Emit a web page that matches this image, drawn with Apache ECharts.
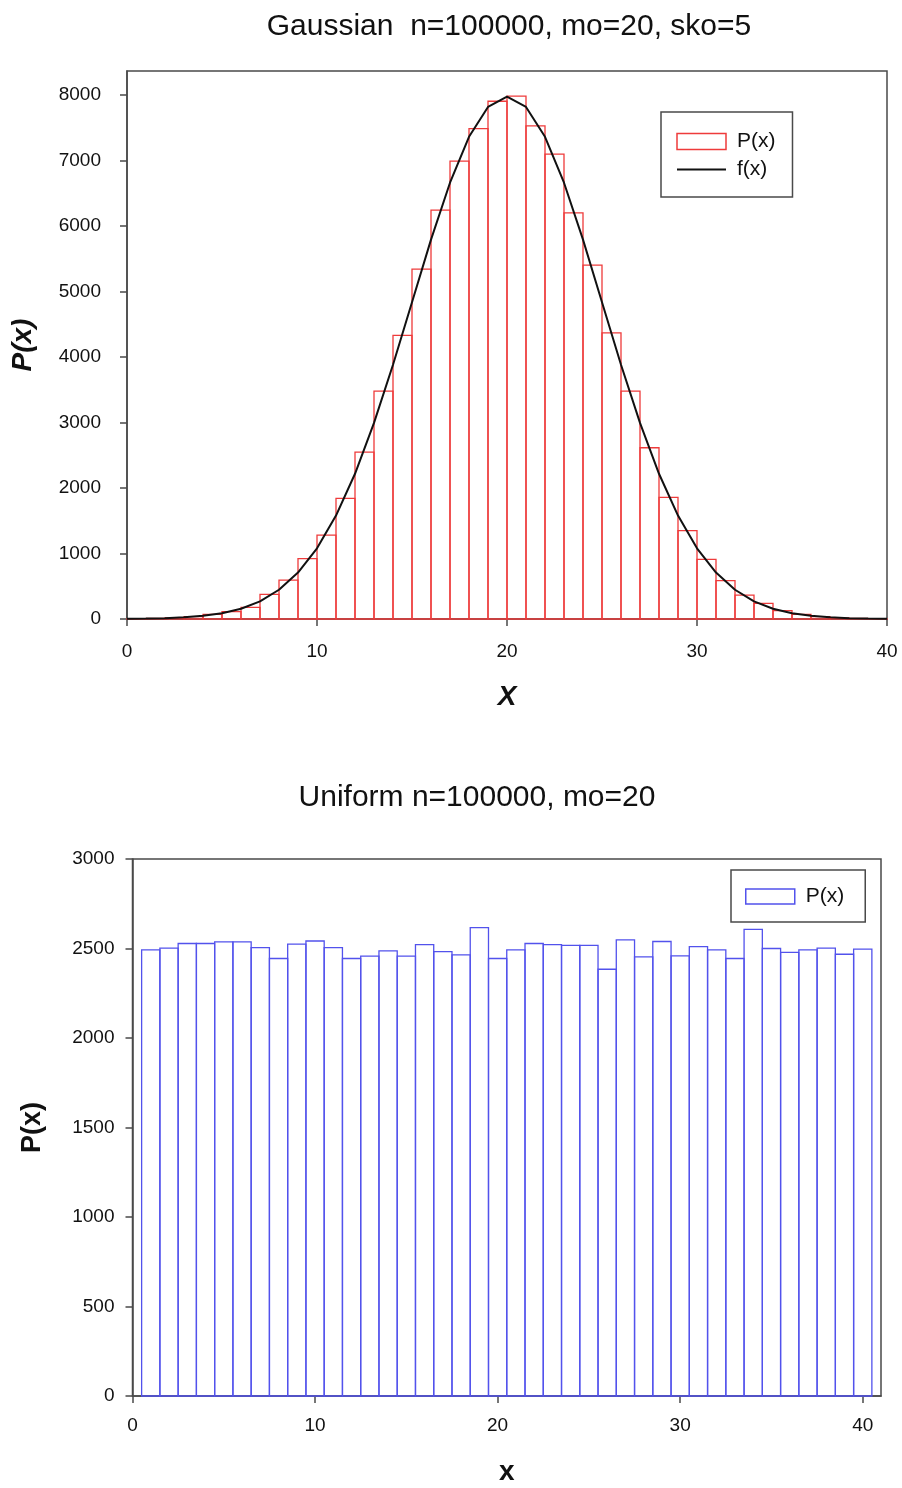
<!DOCTYPE html>
<html>
<head>
<meta charset="utf-8">
<script src="https://cdn.jsdelivr.net/npm/echarts@6/dist/echarts.min.js"></script>
<style>
html,body{margin:0;padding:0;background:#fff;}
#chart{width:902px;height:1488px;}
</style>
</head>
<body>
<div id="chart"></div>
<script>
// ---------- Data ----------
// Gaussian histogram: bins [start, start+1)
const gaussBinStart = [0,1,2,3,4,5,6,7,8,9,10,11,12,13,14,15,16,17,18,19,20,21,22,23,24,25,26,27,28,29,30,31,32,33,34,35,36,37,38,39];
const gaussCounts   = [3,8,17,37,72,112,178,377,595,921,1282,1842,2550,3480,4331,5344,6244,6992,7491,7908,7985,7532,7099,6204,5405,4370,3481,2616,1858,1349,911,585,366,239,127,70,35,16,8,3];
// f(x) curve, read at integer x
const curveX = [0,1,2,3,4,5,6,7,8,9,10,11,12,13,14,15,16,17,18,19,20,21,22,23,24,25,26,27,28,29,30,31,32,33,34,35,36,37,38,39,40];
const curveY = [3,6,12,25,48,89,157,270,447,709,1080,1579,2218,2995,3883,4839,5794,6664,7365,7821,7979,7821,7365,6664,5794,4839,3883,2995,2218,1579,1080,709,447,270,157,89,48,25,12,6,3];
// Uniform histogram: bins centred on integers
const uniCentres = [1,2,3,4,5,6,7,8,9,10,11,12,13,14,15,16,17,18,19,20,21,22,23,24,25,26,27,28,29,30,31,32,33,34,35,36,37,38,39,40];
const uniCounts  = [2492,2502,2528,2528,2537,2537,2505,2444,2525,2542,2505,2444,2457,2487,2457,2522,2483,2464,2617,2444,2492,2528,2522,2517,2517,2384,2548,2453,2539,2459,2511,2492,2444,2607,2500,2478,2492,2502,2468,2497];

const titleTop = 'Gaussian  n=100000, mo=20, sko=5';
const titleBottom = 'Uniform n=100000, mo=20';

// ---------- Build ----------
const FONT = 'Liberation Sans, Arial, sans-serif';
const RED = '#ee3b3b';
const BLUE = '#5252ec';
const FRAME = '#4a4a4a';

const gaussData = gaussBinStart.map((s, i) => [s, s + 1, gaussCounts[i]]);
const curveData = curveX.map((x, i) => [x, curveY[i]]);
const uniData = uniCentres.map((c, i) => [c - 0.5, c + 0.5, uniCounts[i]]);

function histRender(color) {
  return function (params, api) {
    const x0 = api.value(0), x1 = api.value(1), y = api.value(2);
    const p0 = api.coord([x0, y]);
    const p1 = api.coord([x1, 0]);
    return {
      type: 'rect',
      shape: { x: p0[0], y: p0[1], width: p1[0] - p0[0], height: p1[1] - p0[1] },
      style: { fill: null, stroke: color, lineWidth: 1.3 }
    };
  };
}

const plain = v => String(v);

const axisCommon = {
  axisLine: { show: true, lineStyle: { color: FRAME, width: 1.5 } },
  axisTick: { show: true, inside: false, length: 7, lineStyle: { color: FRAME, width: 1.5 } },
  splitLine: { show: false },
  axisLabel: { color: '#111', fontFamily: FONT, fontSize: 19, formatter: plain }
};

const option = {
  backgroundColor: '#fff',
  animation: false,
  title: [
    { text: titleTop, left: 504, top: 7, textAlign: 'center',
      textStyle: { fontFamily: FONT, fontSize: 30, fontWeight: 'normal', color: '#111' } },
    { text: titleBottom, left: 472, top: 778, textAlign: 'center',
      textStyle: { fontFamily: FONT, fontSize: 30, fontWeight: 'normal', color: '#111' } }
  ],
  grid: [
    { left: 127, top: 71, width: 760, height: 548, show: true, borderColor: FRAME, borderWidth: 1.5, backgroundColor: 'transparent' },
    { left: 132.5, top: 859, width: 748.5, height: 537, show: true, borderColor: FRAME, borderWidth: 1.5, backgroundColor: 'transparent' }
  ],
  xAxis: [
    Object.assign({}, axisCommon, {
      type: 'value', gridIndex: 0, min: 0, max: 40, interval: 10,
      name: 'X', nameLocation: 'middle', nameGap: 64,
      nameTextStyle: { fontFamily: FONT, fontSize: 28, fontWeight: 'bold', fontStyle: 'italic', color: '#111' },
      axisLabel: Object.assign({}, axisCommon.axisLabel, { margin: 23 })
    }),
    Object.assign({}, axisCommon, {
      type: 'value', gridIndex: 1, min: 0, max: 41, interval: 10,
      name: 'x', nameLocation: 'middle', nameGap: 62,
      nameTextStyle: { fontFamily: FONT, fontSize: 28, fontWeight: 'bold', color: '#111' },
      axisLabel: Object.assign({}, axisCommon.axisLabel, { margin: 20, showMaxLabel: false })
    })
  ],
  yAxis: [
    Object.assign({}, axisCommon, {
      type: 'value', gridIndex: 0, min: 0, max: 8370, interval: 1000,
      name: 'P(x)', nameLocation: 'middle', nameGap: 90, nameRotate: 90,
      nameTextStyle: { fontFamily: FONT, fontSize: 28, fontWeight: 'bold', fontStyle: 'italic', color: '#111' },
      axisLabel: Object.assign({}, axisCommon.axisLabel, { margin: 26, showMaxLabel: false })
    }),
    Object.assign({}, axisCommon, {
      type: 'value', gridIndex: 1, min: 0, max: 3000, interval: 500,
      name: 'P(x)', nameLocation: 'middle', nameGap: 86, nameRotate: 90,
      nameTextStyle: { fontFamily: FONT, fontSize: 27, fontWeight: 'bold', color: '#111' },
      axisLabel: Object.assign({}, axisCommon.axisLabel, { margin: 18 })
    })
  ],
  legend: [
    {
      orient: 'vertical', left: 661, top: 112,
      padding: [19, 17, 17, 15], itemGap: 7, itemWidth: 49, itemHeight: 16,
      borderColor: FRAME, borderWidth: 1.5, backgroundColor: '#fff',
      textStyle: { fontFamily: FONT, fontSize: 21, color: '#111', padding: [0, 0, 0, 6] },
      selectedMode: false,
      data: [
        { name: 'P(x)', icon: 'rect', itemStyle: { color: '#fff', borderColor: RED, borderWidth: 1.5 } },
        { name: 'f(x)', itemStyle: { color: 'rgba(0,0,0,0)', borderWidth: 0, opacity: 0 },
          lineStyle: { color: '#111', width: 2 } }
      ]
    },
    {
      orient: 'vertical', left: 731, top: 870,
      padding: [16, 21, 15, 14], itemWidth: 49, itemHeight: 15,
      borderColor: FRAME, borderWidth: 1.5, backgroundColor: '#fff',
      textStyle: { fontFamily: FONT, fontSize: 21, color: '#111', padding: [0, 0, 0, 6] },
      selectedMode: false,
      formatter: function () { return 'P(x)'; },
      data: [
        { name: 'Puni', icon: 'rect', itemStyle: { color: '#fff', borderColor: BLUE, borderWidth: 1.5 } }
      ]
    }
  ],
  series: [
    {
      name: 'P(x)', type: 'custom', xAxisIndex: 0, yAxisIndex: 0,
      renderItem: histRender(RED), encode: { x: [0, 1], y: 2 },
      itemStyle: { color: RED }, data: gaussData, z: 2
    },
    {
      name: 'f(x)', type: 'line', xAxisIndex: 0, yAxisIndex: 0,
      data: curveData, symbol: 'none', smooth: false, color: '#111',
      lineStyle: { color: '#111', width: 2 }, z: 3
    },
    {
      name: 'Puni', type: 'custom', xAxisIndex: 1, yAxisIndex: 1,
      renderItem: histRender(BLUE), encode: { x: [0, 1], y: 2 },
      itemStyle: { color: BLUE }, data: uniData, z: 2
    }
  ]
};

const chart = echarts.init(document.getElementById('chart'), null, { renderer: 'canvas' });
chart.setOption(option);
</script>
</body>
</html>
